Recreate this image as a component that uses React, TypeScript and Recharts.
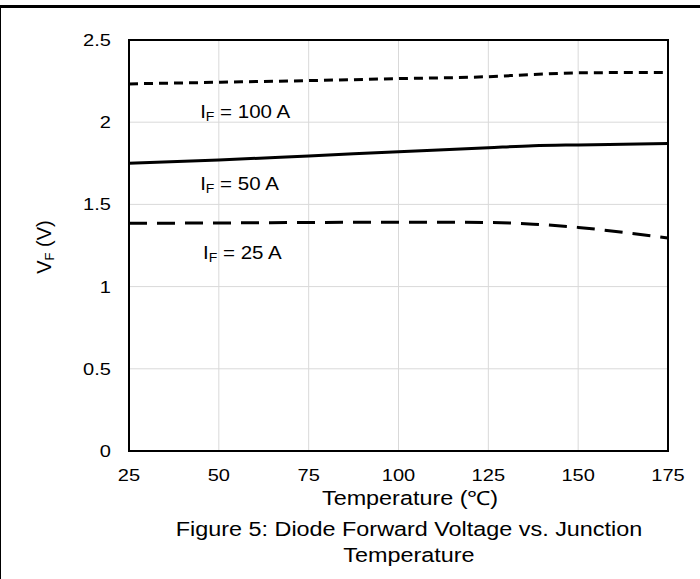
import { LineChart, Line, XAxis, YAxis, CartesianGrid, ReferenceArea, ReferenceDot } from 'recharts';

const temps = [25, 50, 75, 100, 125, 137.5, 150, 162.5, 175];
const vf100 = [2.233, 2.243, 2.253, 2.265, 2.277, 2.29, 2.3, 2.302, 2.303];
const vf50 = [1.75, 1.77, 1.795, 1.82, 1.845, 1.857, 1.862, 1.866, 1.87];
const vf25 = [1.385, 1.387, 1.39, 1.392, 1.39, 1.38, 1.36, 1.33, 1.295];

const xTicks = [25, 50, 75, 100, 125, 150, 175];
const yTicks = [0, 0.5, 1, 1.5, 2, 2.5];

const labelCurrents = ['100 A', '50 A', '25 A'];
const labelTemps = [44.8, 44.8, 45.6];
const labelVolts = [2.068, 1.63, 1.21];

const rows = temps.map((t, i) => ({ t, a100: vf100[i], a50: vf50[i], a25: vf25[i] }));

const FONT = '"Liberation Sans", Arial, sans-serif';

// the source picture's text is a bit wider than Arial, so stretch it a little
const stretch = (origin: string, k = 1.18) => ({
  transform: `scaleX(${k})`,
  transformBox: 'fill-box' as const,
  transformOrigin: origin,
});

const YTick = ({ x, y, payload }: any) => (
  <text x={x} y={y} textAnchor="end" dominantBaseline="central" fontSize={17} fill="#000" fontFamily={FONT} style={stretch('right center')}>
    {payload.value}
  </text>
);

const XTick = ({ x, y, payload }: any) => (
  <text x={x} y={y} textAnchor="middle" dominantBaseline="central" fontSize={17} fill="#000" fontFamily={FONT} style={stretch('center')}>
    {payload.value}
  </text>
);

const currentLabel = (current: string) => (props: any) => {
  const { x, y } = props.viewBox;
  return (
    <text x={x} y={y} dominantBaseline="central" fontSize={19} fill="#000" fontFamily={FONT} style={stretch('left center', 1.08)}>
      <tspan>I</tspan>
      <tspan fontSize={13} dy={5}>F</tspan>
      <tspan dy={-5}> = {current}</tspan>
    </text>
  );
};

export default function App() {
  return (
    <div style={{ position: 'absolute', left: 0, top: 0, width: 700, height: 579, background: '#fff', fontFamily: FONT }}>
      <div style={{ position: 'absolute', left: 0, top: 5, width: 700, height: 574, borderTop: '3px solid #000', borderLeft: '1px solid #000', boxSizing: 'border-box' }} />
      <LineChart width={700} height={579} data={rows} margin={{ top: 40, right: 32, bottom: 98, left: 0 }}>
        <CartesianGrid stroke="#d9d9d9" strokeWidth={1} />
        <XAxis
          dataKey="t"
          type="number"
          domain={[25, 175]}
          ticks={xTicks}
          height={30}
          axisLine={false}
          tickLine={false}
          tickSize={0}
          tickMargin={24}
          tick={<XTick />}
        />
        <YAxis
          type="number"
          domain={[0, 2.5]}
          ticks={yTicks}
          width={129}
          axisLine={false}
          tickLine={false}
          tickSize={0}
          tickMargin={18}
          tick={<YTick />}
        />
        <Line type="monotone" dataKey="a100" stroke="#000" strokeWidth={3} strokeDasharray="9 6" dot={false} isAnimationActive={false} />
        <Line type="monotone" dataKey="a50" stroke="#000" strokeWidth={3} dot={false} isAnimationActive={false} />
        <Line type="monotone" dataKey="a25" stroke="#000" strokeWidth={3} strokeDasharray="18 10" dot={false} isAnimationActive={false} />
        <ReferenceArea x1={25} x2={175} y1={0} y2={2.5} fill="none" stroke="#000" strokeWidth={2} />
        {labelCurrents.map((c, i) => (
          <ReferenceDot key={c} x={labelTemps[i]} y={labelVolts[i]} r={0} fill="none" stroke="none" label={{ content: currentLabel(c) }} />
        ))}
        <text x={44} y={247} transform="rotate(-90, 44, 247)" textAnchor="middle" dominantBaseline="central" fontSize={20} fill="#000" fontFamily={FONT}>
          <tspan>V</tspan>
          <tspan fontSize={13} dy={5}>F</tspan>
          <tspan dy={-5}> (V)</tspan>
        </text>
        <text x={410} y={499} textAnchor="middle" dominantBaseline="central" fontSize={19.5} fill="#000" fontFamily={FONT} style={stretch('center', 1.2)}>
          Temperature (℃)
        </text>
        <text x={409} y={530} textAnchor="middle" dominantBaseline="central" fontSize={19.5} fill="#000" fontFamily={FONT} style={stretch('center', 1.2)}>
          Figure 5: Diode Forward Voltage vs. Junction
        </text>
        <text x={409} y={556} textAnchor="middle" dominantBaseline="central" fontSize={19.5} fill="#000" fontFamily={FONT} style={stretch('center', 1.2)}>
          Temperature
        </text>
      </LineChart>
    </div>
  );
}
